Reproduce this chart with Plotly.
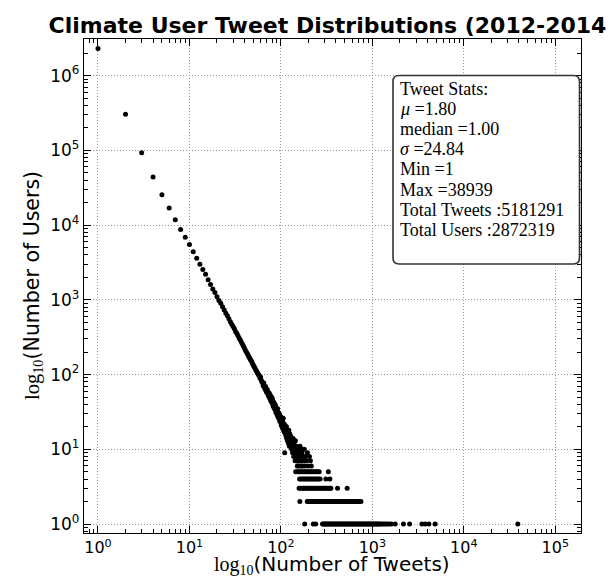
import plotly.graph_objects as go

# ---- data (tweets per user vs number of users) ----
head_tweets = list(range(1, 58))
head_users = [2300000, 305000, 93000, 44000, 25400, 16900, 11800, 8700, 6900, 5500,
              4400, 3600, 3000, 2550, 2200, 1850, 1600, 1400, 1250, 1100,
              980, 900, 810, 730, 660, 610, 560, 510, 470, 440,
              410, 375, 355, 330, 305, 290, 270, 255, 240, 225,
              210, 200, 190, 180, 170, 162, 155, 148, 140, 133,
              127, 122, 116, 112, 107, 103, 99]

mid_tweets = [58, 59, 60, 61, 62, 63, 64, 65, 66, 67, 68, 69, 70, 71, 72, 73, 74, 75, 76, 77,
              78, 79, 80, 81, 82, 83, 84, 85, 86, 87, 88, 89, 90, 91, 92, 93, 94, 95, 96, 97,
              98, 99, 100, 101, 102, 103, 104, 105, 106, 107, 108, 109, 110, 111, 112, 113, 114,
              115, 116, 117, 118, 119, 120, 121, 122, 123, 124, 125, 126, 127, 128, 129, 130,
              131, 132, 133, 134, 135, 136, 137, 138, 139, 140, 141, 142, 143, 144, 145, 146,
              147, 148, 149, 150, 151, 152, 153, 154, 155, 156, 158, 160, 162, 163, 165, 167,
              168, 170, 172, 175, 178, 180, 183, 186, 190, 195, 198, 205, 210, 215]
mid_users = [97, 90, 93, 84, 80, 78, 71, 77, 68, 64, 69, 60, 58, 63, 55, 52, 57, 49, 54, 46,
             44, 50, 42, 47, 38, 43, 36, 41, 34, 39, 31, 36, 33, 29, 35, 27, 31, 26, 30, 24,
             28, 23, 27, 21, 25, 20, 24, 19, 26, 18, 22, 17, 9, 21, 16, 19, 15,
             20, 14, 18, 13, 17, 15, 12, 18, 14, 11, 16, 13, 12, 15, 11, 14,
             10, 13, 12, 9, 11, 14, 10, 8, 12, 10, 9, 11, 7, 13, 8, 10,
             9, 7, 11, 8, 6, 10, 9, 7, 8, 6, 9, 7, 11, 8, 6, 10,
             7, 9, 6, 8, 7, 10, 6, 8, 7, 9, 6, 8, 7, 6]

five_user_tweets = [145, 152, 158, 163, 170, 176, 182, 188, 195, 203, 210, 218, 226, 235,
                    244, 253, 262, 330]
four_user_tweets = [160, 166, 173, 179, 186, 192, 199, 207, 214, 222, 231, 240, 249, 258,
                    268, 310, 343]
three_user_tweets = [158, 165, 171, 178, 184, 191, 197, 204, 212, 220, 228, 236, 245, 255,
                     264, 274, 284, 295, 306, 318, 330, 342, 352, 416, 530]
two_user_tweets = [161, 194, 201, 208, 215, 222, 230, 238, 246, 255, 264, 273, 283, 293,
                   303, 314, 325, 337, 349, 361, 374, 387, 401, 415, 430, 445, 461, 477,
                   494, 512, 530, 549, 568, 588, 609, 630, 653, 676, 700, 725, 750]
one_user_tweets = [182, 226, 240, 285, 292, 300, 308, 316, 324, 333, 342, 351, 360, 370,
                   380, 390, 401, 412, 423, 434, 446, 458, 470, 483, 496, 509, 523, 537,
                   551, 566, 581, 597, 613, 630, 647, 664, 682, 700, 719, 738, 758, 779,
                   800, 821, 843, 866, 889, 913, 938, 963, 989, 1016, 1043, 1071, 1100,
                   1130, 1165, 1200, 1245, 1290, 1340, 1400, 1460, 1530, 1617, 1776, 2186,
                   2552, 3480, 3780, 4150, 4850, 38939]

x_tick_vals = [1, 10, 100, 1000, 10000, 100000]
x_tick_text = ["10<sup>0</sup>", "10<sup>1</sup>", "10<sup>2</sup>", "10<sup>3</sup>",
               "10<sup>4</sup>", "10<sup>5</sup>"]
y_tick_vals = [1, 10, 100, 1000, 10000, 100000, 1000000]
y_tick_text = ["10<sup>0</sup>", "10<sup>1</sup>", "10<sup>2</sup>", "10<sup>3</sup>",
               "10<sup>4</sup>", "10<sup>5</sup>", "10<sup>6</sup>"]

stats_lines = ["Tweet Stats:", "<i>μ</i> =1.80", "median =1.00", "<i>σ</i> =24.84",
               "Min =1", "Max =38939", "Total Tweets :5181291", "Total Users :2872319"]

# ---- build ----
xs = (head_tweets + mid_tweets + five_user_tweets + four_user_tweets +
      three_user_tweets + two_user_tweets + one_user_tweets)
ys = (head_users + mid_users + [5] * len(five_user_tweets) + [4] * len(four_user_tweets) +
      [3] * len(three_user_tweets) + [2] * len(two_user_tweets) + [1] * len(one_user_tweets))

fig = go.Figure()
fig.add_trace(go.Scatter(x=xs, y=ys, mode="markers",
                         marker=dict(color="black", size=5, line=dict(width=0)),
                         showlegend=False))

W, H = 616, 577
L, R, T, B = 76, 43, 31, 52
pw, ph = W - L - R, H - T - B


def px_to_paper(px, py):
    return (px - L) / pw, (H - B - py) / ph


axis_common = dict(
    type="log", ticks="inside", ticklen=7, tickwidth=1, tickcolor="black",
    showline=True, linecolor="black", linewidth=1.3, mirror="allticks",
    showgrid=True, gridcolor="#9a9a9a", griddash="1px,2px", gridwidth=1,
    minor=dict(ticks="inside", ticklen=3.5, tickwidth=1, tickcolor="black",
               dtick="D1", showgrid=False),
    tickfont=dict(family="DejaVu Sans", size=17, color="black"),
    zeroline=False, automargin=False,
)

fig.update_layout(
    width=W, height=H, autosize=False,
    margin=dict(l=L, r=R, t=T, b=B),
    paper_bgcolor="white", plot_bgcolor="white",
    title=dict(text="<b>Climate User Tweet Distributions (2012-2014)</b>",
               x=0.5, xref="paper", xanchor="center",
               y=1 - 17 / H, yref="container", yanchor="middle",
               font=dict(family="DejaVu Sans", size=22, color="black")),
    xaxis=dict(axis_common, range=[-0.153, 5.281], tickmode="array",
               tickvals=x_tick_vals, ticktext=x_tick_text,
               tickfont=dict(family="DejaVu Sans", size=16, color="black")),
    yaxis=dict(axis_common, range=[-0.12, 6.49], tickmode="array",
               tickvals=y_tick_vals, ticktext=y_tick_text),
)

# axis titles
xt_x, xt_y = px_to_paper(324, 572)
fig.add_annotation(text="<span style='font-family:Liberation Serif'>log<sub>10</sub></span>(Number of Tweets)",
                   xref="paper", yref="paper", x=xt_x, y=xt_y,
                   xanchor="center", yanchor="bottom", showarrow=False,
                   font=dict(family="DejaVu Sans", size=20, color="black"))
yt_x, yt_y = px_to_paper(25, 278)
fig.add_annotation(text="<span style='font-family:Liberation Serif'>log<sub>10</sub></span>(Number of Users)",
                   xref="paper", yref="paper", x=yt_x, y=yt_y, textangle=-90,
                   xanchor="center", yanchor="middle", showarrow=False,
                   font=dict(family="DejaVu Sans", size=20.5, color="black"))

# rounded stats box
x0, y0 = px_to_paper(385, 256)
x1, y1 = px_to_paper(571.5, 67.5)
rx, ry = 6 / pw, 6 / ph
path = (f"M {x0+rx},{y0} L {x1-rx},{y0} Q {x1},{y0} {x1},{y0+ry} "
        f"L {x1},{y1-ry} Q {x1},{y1} {x1-rx},{y1} L {x0+rx},{y1} "
        f"Q {x0},{y1} {x0},{y1-ry} L {x0},{y0+ry} Q {x0},{y0} {x0+rx},{y0} Z")
fig.add_shape(type="path", path=path, xref="paper", yref="paper",
              line=dict(color="#333333", width=1.6), fillcolor="white", layer="above")

for i, line in enumerate(stats_lines):
    lx, ly = px_to_paper(390, 81 + 20.1 * i)
    fig.add_annotation(text=line, xref="paper", yref="paper", x=lx, y=ly,
                       xanchor="left", yanchor="middle", align="left", showarrow=False,
                       font=dict(family="Liberation Serif", size=18, color="black"))

fig.write_html("out.html")
